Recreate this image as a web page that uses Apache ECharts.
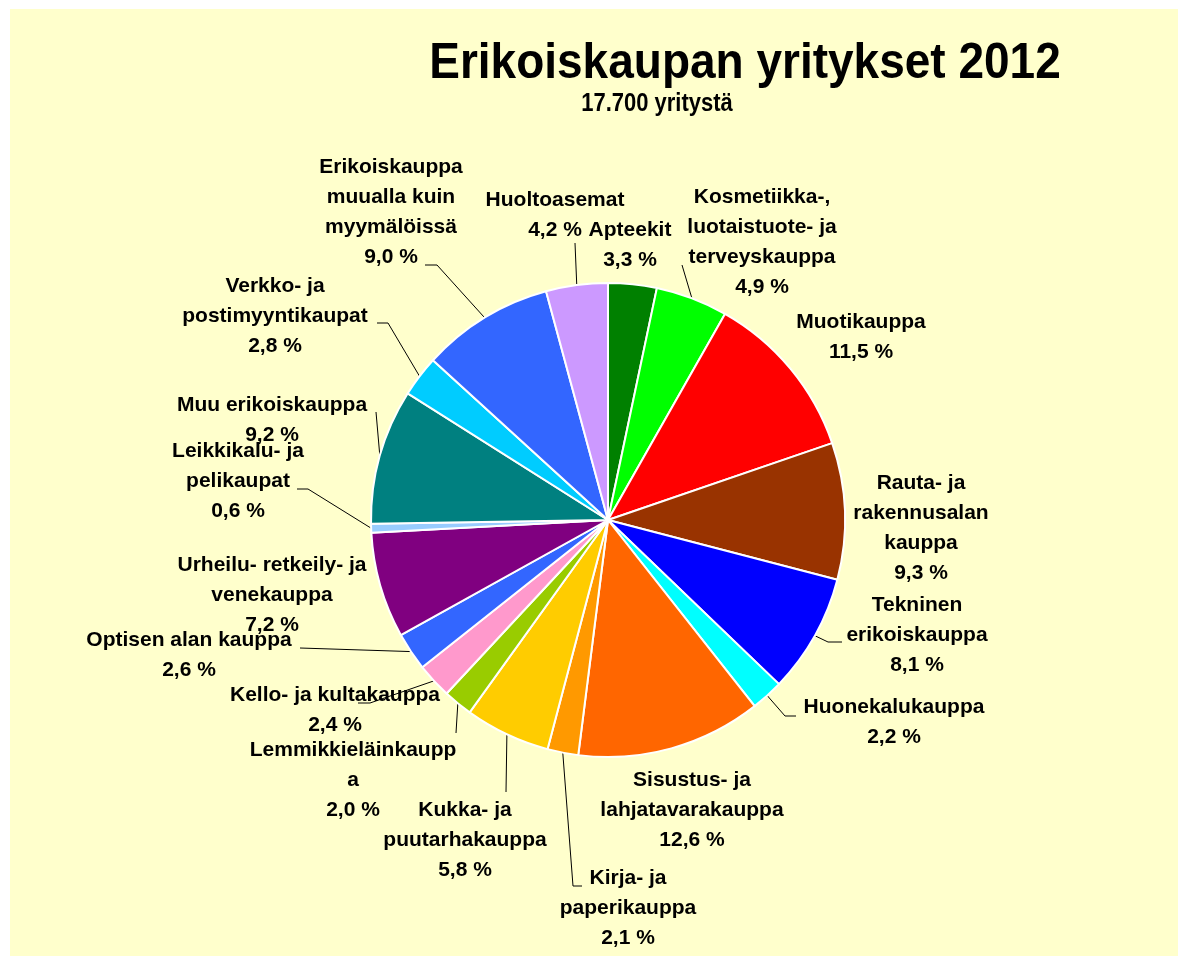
<!DOCTYPE html>
<html>
<head>
<meta charset="utf-8">
<title>Erikoiskaupan yritykset 2012</title>
<script src="https://cdn.jsdelivr.net/npm/echarts@6/dist/echarts.min.js"></script>
<style>
  html, body { margin: 0; padding: 0; background: #ffffff; }
  #chart { width: 1178px; height: 956px; }
</style>
</head>
<body>
<div id="chart"></div>
<script>
// Toimialat myötäpäivään klo 12:sta alkaen
const categories = [
  'Apteekit',
  'Kosmetiikka-,\nluotaistuote- ja\nterveyskauppa',
  'Muotikauppa',
  'Rauta- ja\nrakennusalan\nkauppa',
  'Tekninen\nerikoiskauppa',
  'Huonekalukauppa',
  'Sisustus- ja\nlahjatavarakauppa',
  'Kirja- ja\npaperikauppa',
  'Kukka- ja\npuutarhakauppa',
  'Lemmikkieläinkaupp\na',
  'Kello- ja kultakauppa',
  'Optisen alan kauppa',
  'Urheilu- retkeily- ja\nvenekauppa',
  'Leikkikalu- ja\npelikaupat',
  'Muu erikoiskauppa',
  'Verkko- ja\npostimyyntikaupat',
  'Erikoiskauppa\nmuualla kuin\nmyymälöissä',
  'Huoltoasemat'
];

// Osuus yrityksistä, %
const shares = [3.3, 4.9, 11.5, 9.3, 8.1, 2.2, 12.6, 2.1, 5.8, 2.0, 2.4, 2.6, 7.2, 0.6, 9.2, 2.8, 9.0, 4.2];

const sliceColors = [
  '#008000', '#00FF00', '#FF0000', '#993300', '#0000FF', '#00FFFF',
  '#FF6600', '#FF9900', '#FFCC00', '#99CC00', '#FF99CC', '#3366FF',
  '#800080', '#99CCFF', '#008080', '#00CCFF', '#3366FF', '#CC99FF'
];

// Tekstilaatikoiden keskipisteet
const labelSpots = [
  [630, 245], [762, 242], [861, 337], [921, 528], [917, 635], [894, 722],
  [692, 810], [628, 908], [465, 840], [353, 780], [335, 710], [189, 655],
  [272, 595], [238, 481], [272, 420], [275, 316], [391, 212], [555, 215]
];

// Viittausviivojen taitepisteet sektorin reunalta tekstiin
const leaderBends = [
  null, [[682, 265]], null, null, [[828, 642], [842, 642]], [[785, 716], [796, 716]],
  null, [[573, 886], [582, 886]], [[506, 792]], [[456, 733]], [[370, 703], [358, 703]], [[300, 648]],
  null, [[308, 489], [297, 489]], [[376, 412]], [[388, 323], [377, 323]], [[437, 265], [425, 265]], [[575, 243]]
];

const FONT = '"Liberation Sans", Arial, Helvetica, sans-serif';

const chart = echarts.init(document.getElementById('chart'), null, { renderer: 'canvas' });

const pieData = categories.map((name, i) => ({
  name: name,
  value: shares[i],
  itemStyle: { color: sliceColors[i] },
  labelLine: { show: !!leaderBends[i] }
}));

chart.setOption({
  animation: false,
  backgroundColor: '#ffffff',
  graphic: [
    {
      type: 'rect', z: -10, silent: true,
      shape: { x: 10, y: 9, width: 1168, height: 947 },
      style: { fill: '#FFFFCC' }
    },
    {
      // otsikko hieman pystysuunnassa venytettynä
      type: 'text', x: 745, y: 64, scaleY: 1.1, originX: 0, originY: 0,
      style: {
        text: 'Erikoiskaupan yritykset 2012',
        font: 'bold 46px ' + FONT,
        fill: '#000000', textAlign: 'center', textVerticalAlign: 'middle'
      }
    },
    {
      type: 'text', x: 657, y: 104, scaleY: 1.15, originX: 0, originY: 0,
      style: {
        text: '17.700 yritystä',
        font: 'bold 22px ' + FONT,
        fill: '#000000', textAlign: 'center', textVerticalAlign: 'middle'
      }
    }
  ],
  series: [{
    type: 'pie',
    center: [608, 520],
    radius: 237,
    startAngle: 90,
    clockwise: true,
    avoidLabelOverlap: false,
    emphasis: { disabled: true },
    itemStyle: { borderColor: '#ffffff', borderWidth: 2 },
    label: {
      show: true,
      position: 'outside',
      color: '#000000',
      fontFamily: FONT,
      fontWeight: 'bold',
      fontSize: 21,
      lineHeight: 30,
      align: 'center',
      formatter: p => p.name + '\n' + p.value.toFixed(1).replace('.', ',') + ' %'
    },
    labelLine: {
      show: true,
      lineStyle: { color: '#000000', width: 1 }
    },
    labelLayout: function (params) {
      const i = params.dataIndex;
      const spot = labelSpots[i];
      const out = { x: spot[0], y: spot[1], align: 'center', verticalAlign: 'middle' };
      const bends = leaderBends[i];
      if (bends && params.labelLinePoints) {
        out.labelLinePoints = [params.labelLinePoints[0]].concat(bends);
      }
      return out;
    },
    data: pieData
  }]
});
</script>
</body>
</html>
